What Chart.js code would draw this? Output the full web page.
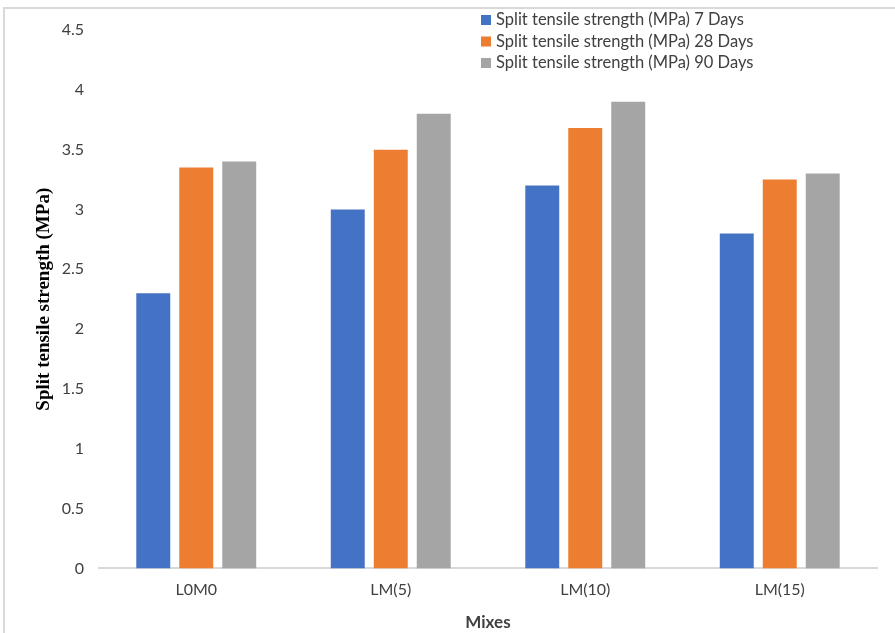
<!DOCTYPE html>
<html>
<head>
<meta charset="utf-8">
<script src="https://cdn.jsdelivr.net/npm/chart.js@4.4.0/dist/chart.umd.min.js"></script>
<style>
  body { margin: 0; background: #fff; }
  #frame { position: absolute; left: 3px; top: 7px; width: 1000px; height: 1000px; border: 2px solid #d9d9d9; }
  #wrap { position: absolute; left: 0; top: 0; width: 895px; height: 633px; }
</style>
</head>
<body>
<div id="frame"></div>
<div id="wrap"><canvas id="strengthChart"></canvas></div>
<script>
// mixes on the x axis
const mixes = ['L0M0', 'LM(5)', 'LM(10)', 'LM(15)'];
// split tensile strength (MPa)
const days7 = [2.3, 3.0, 3.2, 2.8];
const days28 = [3.35, 3.5, 3.68, 3.25];
const days90 = [3.4, 3.8, 3.9, 3.3];
const seriesNames = [
  'Split tensile strength (MPa) 7 Days',
  'Split tensile strength (MPa) 28 Days',
  'Split tensile strength (MPa) 90 Days'
];
const colors = ['#4472C4', '#ED7D31', '#A5A5A5'];

const tickFont = { family: 'Lato, "Open Sans", sans-serif', size: 16 };

// legend sits inside the plot, top right, like the excel one
const cornerLegend = {
  id: 'cornerLegend',
  afterDraw(chart) {
    const ctx = chart.ctx;
    ctx.save();
    ctx.font = '16.5px Lato, "Open Sans", sans-serif';
    ctx.textBaseline = 'middle';
    chart.data.datasets.forEach(function(ds, i) {
      const y = 20 + i * 21.5;
      ctx.fillStyle = ds.backgroundColor;
      ctx.fillRect(481, y - 5, 10, 10);
      ctx.fillStyle = '#404040';
      ctx.fillText(ds.label, 496, y);
    });
    ctx.restore();
  }
};

const data = {
  labels: mixes,
  datasets: [days7, days28, days90].map(function(vals, i) {
    return {
      label: seriesNames[i],
      data: vals,
      backgroundColor: colors[i],
      categoryPercentage: 0.663,
      barPercentage: 0.79
    };
  })
};

new Chart(document.getElementById('strengthChart'), {
  type: 'bar',
  data,
  options: {
    responsive: true,
    maintainAspectRatio: false,
    animation: false,
    layout: { padding: { left: 4, top: 30, right: 18, bottom: 0 } },
    plugins: {
      legend: { display: false },
      tooltip: { enabled: false }
    },
    scales: {
      x: {
        grid: { display: false, drawTicks: false },
        border: { color: '#d9d9d9', width: 2 },
        ticks: { color: '#404040', font: tickFont, padding: 12 },
        title: {
          display: true,
          text: 'Mixes',
          color: '#404040',
          font: { family: 'Lato, "Open Sans", sans-serif', size: 17, weight: 'bold' },
          padding: { top: 1, bottom: 0 }
        }
      },
      y: {
        min: 0,
        max: 4.5,
        afterFit: function(scale) { scale.width = 95; },
        grid: { display: false, drawTicks: false },
        border: { display: false },
        ticks: {
          stepSize: 0.5,
          color: '#404040',
          font: tickFont,
          padding: 15,
          callback: function(v) { return String(Number(v.toFixed(1))); }
        },
        title: {
          display: true,
          text: 'Split tensile strength (MPa)',
          color: '#000',
          font: { family: '"Liberation Serif", "Times New Roman", serif', size: 19, weight: 'bold' },
          padding: { top: 29, bottom: 0 }
        }
      }
    }
  },
  plugins: [cornerLegend]
});
</script>
</body>
</html>
